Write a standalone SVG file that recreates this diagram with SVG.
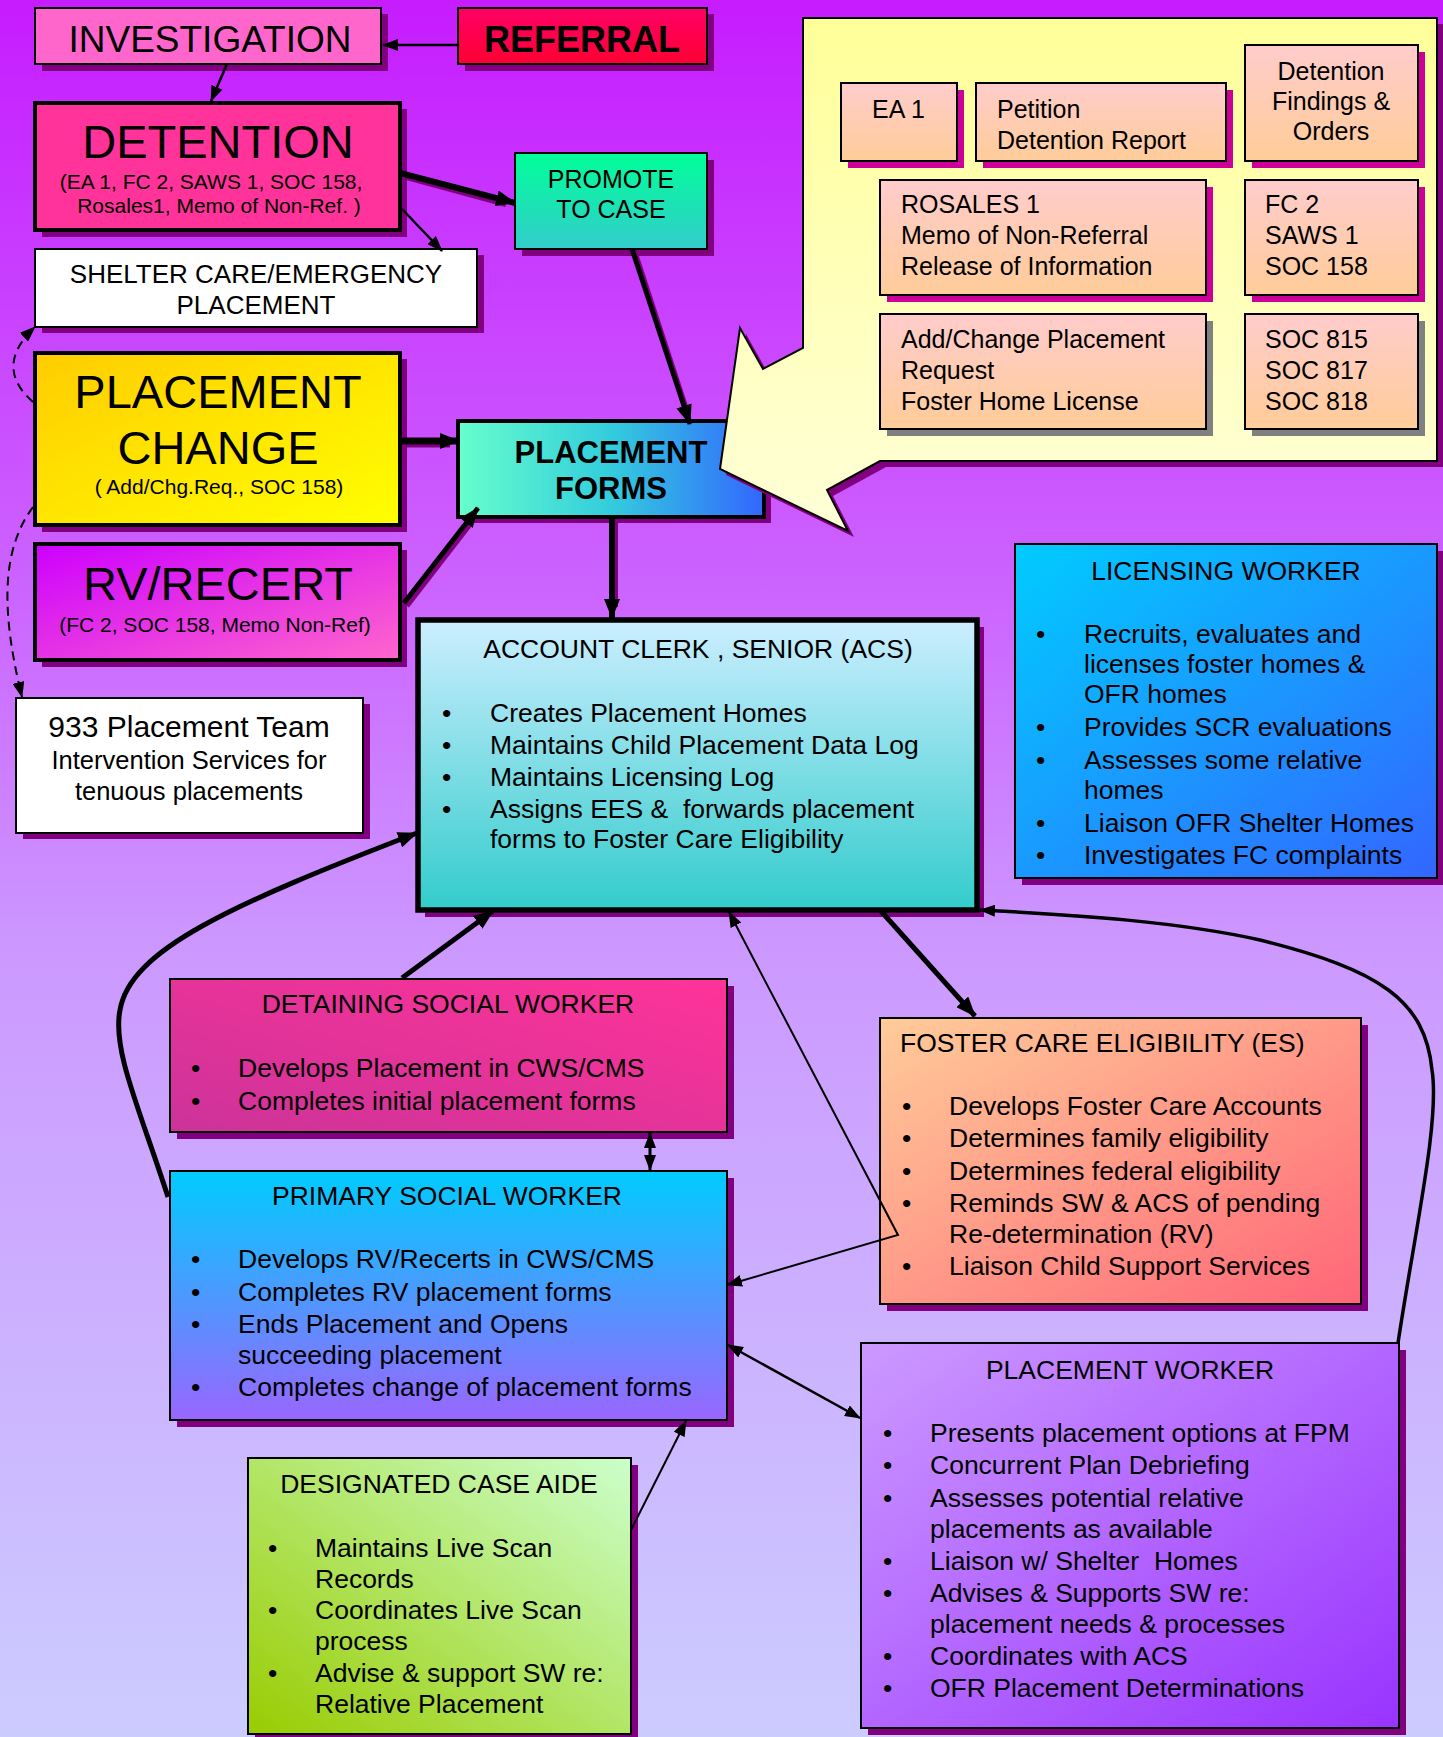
<svg xmlns="http://www.w3.org/2000/svg" width="1443" height="1737" viewBox="0 0 1443 1737">
<defs>
<linearGradient id="bg" x1="0" y1="0" x2="0" y2="1"><stop offset="0" stop-color="#C61CFF"/><stop offset="0.35" stop-color="#CC66FF"/><stop offset="0.55" stop-color="#CC99FF"/><stop offset="1" stop-color="#CCCCFF"/></linearGradient>
<linearGradient id="gref" x1="0" y1="0" x2="0" y2="1"><stop offset="0" stop-color="#FF0066"/><stop offset="1" stop-color="#FF0033"/></linearGradient>
<linearGradient id="gpro" x1="0" y1="0" x2="0" y2="1"><stop offset="0" stop-color="#00FF99"/><stop offset="1" stop-color="#33CCCC"/></linearGradient>
<linearGradient id="gpc" x1="0" y1="0" x2="1" y2="1"><stop offset="0" stop-color="#FFCC00"/><stop offset="1" stop-color="#FFFF00"/></linearGradient>
<linearGradient id="gpf" x1="0" y1="0" x2="1" y2="0"><stop offset="0" stop-color="#66FFCC"/><stop offset="0.5" stop-color="#33CCDD"/><stop offset="1" stop-color="#3366FF"/></linearGradient>
<linearGradient id="grv" x1="0" y1="0" x2="1" y2="1"><stop offset="0" stop-color="#CC00FF"/><stop offset="1" stop-color="#FF66CC"/></linearGradient>
<linearGradient id="gacs" x1="0" y1="0" x2="0" y2="1"><stop offset="0" stop-color="#CCEEFF"/><stop offset="1" stop-color="#33CCCC"/></linearGradient>
<linearGradient id="glic" x1="0" y1="0" x2="1" y2="1"><stop offset="0" stop-color="#00CCFF"/><stop offset="1" stop-color="#3366FF"/></linearGradient>
<linearGradient id="gdsw" x1="0" y1="1" x2="1" y2="0"><stop offset="0" stop-color="#CC3399"/><stop offset="1" stop-color="#FF3399"/></linearGradient>
<linearGradient id="gpsw" x1="0" y1="0" x2="0" y2="1"><stop offset="0" stop-color="#00CCFF"/><stop offset="1" stop-color="#9966FF"/></linearGradient>
<linearGradient id="gfce" x1="0" y1="0" x2="1" y2="1"><stop offset="0" stop-color="#FFCC99"/><stop offset="1" stop-color="#FF6677"/></linearGradient>
<linearGradient id="gpw" x1="0" y1="0" x2="1" y2="1"><stop offset="0" stop-color="#CC99FF"/><stop offset="1" stop-color="#9933FF"/></linearGradient>
<linearGradient id="gdca" x1="1" y1="0" x2="0" y2="1"><stop offset="0" stop-color="#CCFFCC"/><stop offset="1" stop-color="#99CC00"/></linearGradient>
<linearGradient id="gcb" x1="0" y1="0" x2="0" y2="1"><stop offset="0" stop-color="#FFCCCC"/><stop offset="1" stop-color="#FFCC99"/></linearGradient>
<linearGradient id="gyel" x1="0" y1="0" x2="0" y2="1"><stop offset="0" stop-color="#FFFF99"/><stop offset="1" stop-color="#FFFFD8"/></linearGradient>
<marker id="ah" markerUnits="userSpaceOnUse" viewBox="0 0 20 16" refX="19" refY="8" markerWidth="20" markerHeight="16" orient="auto"><path d="M0,0 L20,8 L0,16 z" fill="#000"/></marker>
<marker id="as" markerUnits="userSpaceOnUse" viewBox="0 0 16 12" refX="15" refY="6" markerWidth="16" markerHeight="12" orient="auto-start-reverse"><path d="M0,0 L16,6 L0,12 z" fill="#000"/></marker>
<style>
text{font-family:"Liberation Sans",Arial,sans-serif;fill:#000;white-space:pre}
.sh{fill:#800080}
.b2{stroke:#000;stroke-width:2}
.b4{stroke:#000;stroke-width:4}
.b5{stroke:#000;stroke-width:5.5}
.c{text-anchor:middle}
.t26{font-size:26.5px}
.t25{font-size:25px}
.t21{font-size:21px}
.big{font-size:47px}
.cl{fill:none;stroke:#000;stroke-linecap:butt}
.csh{fill:none;stroke:#800080}
.shm{fill:#CC0099}
.shg{fill:#808080}
</style>
</defs>
<rect x="0" y="0" width="1443" height="1737" fill="url(#bg)"/>

<g id="investigation">
<rect class="sh" x="42" y="14" width="346" height="57"/>
<rect class="b2" x="35" y="8" width="346" height="56" fill="#FF66CC"/>
<text class="c" x="210" y="52" font-size="37">INVESTIGATION</text>
</g>
<g id="referral">
<rect class="sh" x="465" y="14" width="249" height="57"/>
<rect class="b2" x="458" y="8" width="249" height="56" fill="url(#gref)"/>
<text class="c" x="582" y="52" font-size="36" font-weight="bold">REFERRAL</text>
</g>
<g id="detention">
<rect class="sh" x="42" y="109" width="365" height="128"/>
<rect class="b4" x="35" y="103" width="365" height="127" fill="#FF3399"/>
<text class="c big" x="218" y="158">DETENTION</text>
<text class="c t21" x="211" y="189">(EA 1, FC 2, SAWS 1, SOC 158,</text>
<text class="c t21" x="219" y="213">Rosales1, Memo of Non-Ref. )</text>
</g>
<g id="promote">
<rect class="sh" x="522" y="160" width="192" height="96"/>
<rect class="b2" x="515" y="153" width="192" height="96" fill="url(#gpro)"/>
<text class="c" x="611" y="188" font-size="25">PROMOTE</text>
<text class="c" x="611" y="218" font-size="25">TO CASE</text>
</g>
<g id="shelter">
<rect class="sh" x="42" y="255" width="442" height="78"/>
<rect class="b2" x="35" y="249" width="442" height="78" fill="#FFFFFF"/>
<text class="c" x="256" y="283" font-size="26">SHELTER CARE/EMERGENCY</text>
<text class="c" x="256" y="314" font-size="26">PLACEMENT</text>
</g>
<g id="placement-change">
<rect class="sh" x="42" y="359" width="365" height="173"/>
<rect class="b4" x="35" y="353" width="365" height="172" fill="url(#gpc)"/>
<text class="c big" x="218" y="408">PLACEMENT</text>
<text class="c big" x="218" y="464">CHANGE</text>
<text class="c t21" x="219" y="494">( Add/Chg.Req., SOC 158)</text>
</g>
<g id="rv-recert">
<rect class="sh" x="42" y="550" width="365" height="117"/>
<rect class="b4" x="35" y="544" width="365" height="116" fill="url(#grv)"/>
<text class="c big" x="218" y="600">RV/RECERT</text>
<text class="c t21" x="215" y="632">(FC 2, SOC 158, Memo Non-Ref)</text>
</g>
<g id="placement-forms">
<rect class="sh" x="465" y="427" width="306" height="96"/>
<rect class="b4" x="458" y="421" width="306" height="96" fill="url(#gpf)"/>
<text class="c" x="611" y="463" font-size="31" font-weight="bold">PLACEMENT</text>
<text class="c" x="611" y="499" font-size="31" font-weight="bold">FORMS</text>
</g>
<g id="team933">
<rect class="sh" x="23" y="704" width="347" height="135"/>
<rect class="b2" x="16" y="698" width="347" height="135" fill="#FFFFFF"/>
<text class="c" x="189" y="737" font-size="30">933 Placement Team</text>
<text class="c" x="189" y="769" font-size="25.5">Intervention Services for</text>
<text class="c" x="189" y="800" font-size="25.5">tenuous placements</text>
</g>

<g id="forms-callout">
<path class="sh" d="M809 24 L1443 24 L1443 467 L886 467 L833 496 L854 537 L726 475 L746 334 L769 375 L809 354 Z"/>
<path d="M803 18 L1437 18 L1437 461 L880 461 L827 490 L848 531 L720 469 L740 328 L763 369 L803 348 Z" fill="url(#gyel)" stroke="#000" stroke-width="2"/>
<rect class="shm" x="848" y="90" width="116" height="78"/>
<rect class="b2" x="841" y="83" width="116" height="78" fill="url(#gcb)"/>
<text class="t25" x="872" y="118">EA 1</text>
<rect class="shm" x="983" y="90" width="250" height="78"/>
<rect class="b2" x="976" y="83" width="250" height="78" fill="url(#gcb)"/>
<text class="t25" x="997" y="118">Petition</text>
<text class="t25" x="997" y="149">Detention Report</text>
<rect class="shm" x="1252" y="52" width="173" height="116"/>
<rect class="b2" x="1245" y="45" width="173" height="116" fill="url(#gcb)"/>
<text class="c t25" x="1331" y="80">Detention</text>
<text class="c t25" x="1331" y="110">Findings &amp;</text>
<text class="c t25" x="1331" y="140">Orders</text>
<rect class="shm" x="887" y="187" width="326" height="115"/>
<rect class="b2" x="880" y="180" width="326" height="115" fill="url(#gcb)"/>
<text class="t25" x="901" y="213">ROSALES 1</text>
<text class="t25" x="901" y="244">Memo of Non-Referral</text>
<text class="t25" x="901" y="275">Release of Information</text>
<rect class="shm" x="1252" y="187" width="173" height="115"/>
<rect class="b2" x="1245" y="180" width="173" height="115" fill="url(#gcb)"/>
<text class="t25" x="1265" y="213">FC 2</text>
<text class="t25" x="1265" y="244">SAWS 1</text>
<text class="t25" x="1265" y="275">SOC 158</text>
<rect class="shg" x="887" y="321" width="326" height="115"/>
<rect class="b2" x="880" y="314" width="326" height="115" fill="url(#gcb)"/>
<text class="t25" x="901" y="348">Add/Change Placement</text>
<text class="t25" x="901" y="379">Request</text>
<text class="t25" x="901" y="410">Foster Home License</text>
<rect class="shg" x="1252" y="321" width="173" height="115"/>
<rect class="b2" x="1245" y="314" width="173" height="115" fill="url(#gcb)"/>
<text class="t25" x="1265" y="348">SOC 815</text>
<text class="t25" x="1265" y="379">SOC 817</text>
<text class="t25" x="1265" y="410">SOC 818</text>
</g>

<g id="acs">
<rect class="sh" x="425" y="627" width="559" height="290"/>
<rect class="b5" x="418" y="620" width="559" height="290" fill="url(#gacs)"/>
<text class="c t26" x="698" y="658">ACCOUNT CLERK , SENIOR (ACS)</text>
<g class="t26">
<text x="442" y="722">•</text><text x="490" y="722">Creates Placement Homes</text>
<text x="442" y="754">•</text><text x="490" y="754">Maintains Child Placement Data Log</text>
<text x="442" y="786">•</text><text x="490" y="786">Maintains Licensing Log</text>
<text x="442" y="818">•</text><text x="490" y="818">Assigns EES &amp;  forwards placement</text>
<text x="490" y="848">forms to Foster Care Eligibility</text>
</g>
</g>
<g id="licensing-worker">
<rect class="sh" x="1022" y="551" width="422" height="334"/>
<rect class="b2" x="1015" y="544" width="422" height="334" fill="url(#glic)"/>
<text class="c t26" x="1226" y="580">LICENSING WORKER</text>
<g class="t26">
<text x="1036" y="643">•</text><text x="1084" y="643">Recruits, evaluates and</text>
<text x="1084" y="673">licenses foster homes &amp;</text>
<text x="1084" y="703">OFR homes</text>
<text x="1036" y="736">•</text><text x="1084" y="736">Provides SCR evaluations</text>
<text x="1036" y="769">•</text><text x="1084" y="769">Assesses some relative</text>
<text x="1084" y="799">homes</text>
<text x="1036" y="832">•</text><text x="1084" y="832">Liaison OFR Shelter Homes</text>
<text x="1036" y="864">•</text><text x="1084" y="864">Investigates FC complaints</text>
</g>
</g>
<g id="detaining-sw">
<rect class="sh" x="177" y="986" width="557" height="153"/>
<rect class="b2" x="170" y="979" width="557" height="153" fill="url(#gdsw)"/>
<text class="c t26" x="448" y="1013">DETAINING SOCIAL WORKER</text>
<g class="t26">
<text x="191" y="1077">•</text><text x="238" y="1077">Develops Placement in CWS/CMS</text>
<text x="191" y="1110">•</text><text x="238" y="1110">Completes initial placement forms</text>
</g>
</g>
<g id="primary-sw">
<rect class="sh" x="177" y="1178" width="557" height="249"/>
<rect class="b2" x="170" y="1171" width="557" height="249" fill="url(#gpsw)"/>
<text class="c t26" x="447" y="1205">PRIMARY SOCIAL WORKER</text>
<g class="t26">
<text x="191" y="1268">•</text><text x="238" y="1268">Develops RV/Recerts in CWS/CMS</text>
<text x="191" y="1301">•</text><text x="238" y="1301">Completes RV placement forms</text>
<text x="191" y="1333">•</text><text x="238" y="1333">Ends Placement and Opens</text>
<text x="238" y="1364">succeeding placement</text>
<text x="191" y="1396">•</text><text x="238" y="1396">Completes change of placement forms</text>
</g>
</g>
<g id="foster-care-eligibility">
<rect class="sh" x="887" y="1025" width="481" height="286"/>
<rect class="b2" x="880" y="1018" width="481" height="286" fill="url(#gfce)"/>
<text class="t26" x="900" y="1052">FOSTER CARE ELIGIBILITY (ES)</text>
<g class="t26">
<text x="902" y="1115">•</text><text x="949" y="1115">Develops Foster Care Accounts</text>
<text x="902" y="1147">•</text><text x="949" y="1147">Determines family eligibility</text>
<text x="902" y="1180">•</text><text x="949" y="1180">Determines federal eligibility</text>
<text x="902" y="1212">•</text><text x="949" y="1212">Reminds SW &amp; ACS of pending</text>
<text x="949" y="1243">Re-determination (RV)</text>
<text x="902" y="1275">•</text><text x="949" y="1275">Liaison Child Support Services</text>
</g>
</g>
<g id="placement-worker">
<rect class="sh" x="868" y="1350" width="538" height="385"/>
<rect class="b2" x="861" y="1343" width="538" height="385" fill="url(#gpw)"/>
<text class="c t26" x="1130" y="1379">PLACEMENT WORKER</text>
<g class="t26">
<text x="883" y="1442">•</text><text x="930" y="1442">Presents placement options at FPM</text>
<text x="883" y="1474">•</text><text x="930" y="1474">Concurrent Plan Debriefing</text>
<text x="883" y="1507">•</text><text x="930" y="1507">Assesses potential relative</text>
<text x="930" y="1538">placements as available</text>
<text x="883" y="1570">•</text><text x="930" y="1570">Liaison w/ Shelter  Homes</text>
<text x="883" y="1602">•</text><text x="930" y="1602">Advises &amp; Supports SW re:</text>
<text x="930" y="1633">placement needs &amp; processes</text>
<text x="883" y="1665">•</text><text x="930" y="1665">Coordinates with ACS</text>
<text x="883" y="1697">•</text><text x="930" y="1697">OFR Placement Determinations</text>
</g>
</g>
<g id="designated-case-aide">
<rect class="sh" x="255" y="1465" width="383" height="276"/>
<rect class="b2" x="248" y="1458" width="383" height="276" fill="url(#gdca)"/>
<text class="c t26" x="439" y="1493">DESIGNATED CASE AIDE</text>
<g class="t26">
<text x="268" y="1557">•</text><text x="315" y="1557">Maintains Live Scan</text>
<text x="315" y="1588">Records</text>
<text x="268" y="1619">•</text><text x="315" y="1619">Coordinates Live Scan</text>
<text x="315" y="1650">process</text>
<text x="268" y="1682">•</text><text x="315" y="1682">Advise &amp; support SW re:</text>
<text x="315" y="1713">Relative Placement</text>
</g>
</g>

<g id="connectors">
<g class="csh">
<path d="M403 176 L506 204" stroke-width="6"/>
<path d="M635 252 L688 414" stroke-width="5"/>
<path d="M403 444 L450 444" stroke-width="7"/>
<path d="M407 606 L472 522" stroke-width="5"/>
<path d="M615 520 L615 607" stroke-width="6"/>
</g>
<path class="cl" d="M458 45 L383 45" stroke-width="2.5" marker-end="url(#as)"/>
<path class="cl" d="M227 64 L211 101" stroke-width="2.5" marker-end="url(#as)"/>
<path class="cl" d="M400 173 L515 203" stroke-width="6" marker-end="url(#ah)"/>
<path class="cl" d="M402 209 L442 251" stroke-width="2.5" marker-end="url(#as)"/>
<path class="cl" d="M632 249 L690 424" stroke-width="5" marker-end="url(#ah)"/>
<path class="cl" d="M400 441 L459 441" stroke-width="7" marker-end="url(#ah)"/>
<path class="cl" d="M404 603 L478 508" stroke-width="5" marker-end="url(#ah)"/>
<path class="cl" d="M612 517 L612 618" stroke-width="6" marker-end="url(#ah)"/>
<path class="cl" d="M33 402 C8 380, 5 355, 35 327" stroke-width="2" stroke-dasharray="9,6" marker-end="url(#as)"/>
<path class="cl" d="M33 507 C5 545, -2 600, 22 697" stroke-width="2" stroke-dasharray="9,6" marker-end="url(#as)"/>
<path class="cl" d="M168 1197 C140 1110, 112 1050, 120 1010 C130 950, 230 905, 417 833" stroke-width="5" marker-end="url(#ah)"/>
<path class="cl" d="M402 978 L493 911" stroke-width="5" marker-end="url(#ah)"/>
<path class="cl" d="M880 910 L975 1016" stroke-width="5" marker-end="url(#ah)"/>
<path class="cl" d="M1398 1343 C1415 1230, 1440 1120, 1432 1070 C1425 1000, 1380 970, 1260 940 C1180 922, 1080 915, 980 910" stroke-width="3.5" marker-end="url(#as)"/>
<path class="cl" d="M729 912 L898 1235 L727 1285" stroke-width="2" marker-start="url(#as)" marker-end="url(#as)"/>
<path class="cl" d="M650 1133 L650 1170" stroke-width="3" marker-start="url(#as)" marker-end="url(#as)"/>
<path class="cl" d="M728 1345 L860 1418" stroke-width="2.5" marker-start="url(#as)" marker-end="url(#as)"/>
<path class="cl" d="M631 1530 L686 1421" stroke-width="2" marker-end="url(#as)"/>
</g>
</svg>
